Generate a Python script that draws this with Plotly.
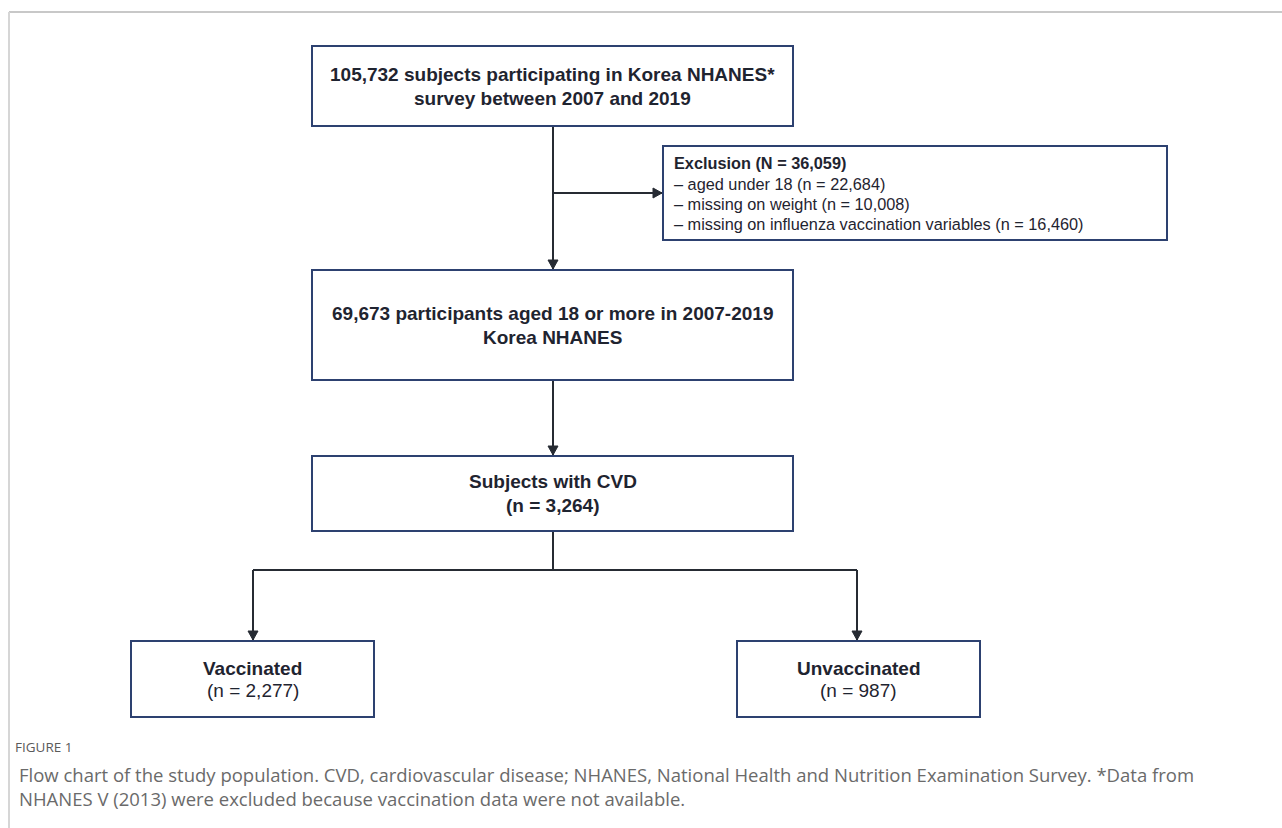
import plotly.graph_objects as go

# ---- data ----
box_titles = [
    ["105,732 subjects participating in Korea NHANES*", "survey between 2007 and 2019"],
    ["69,673 participants aged 18 or more in 2007-2019", "Korea NHANES"],
    ["Subjects with CVD", "(n = 3,264)"],
]
group_titles = ["Vaccinated", "Unvaccinated"]
group_counts = ["(n = 2,277)", "(n = 987)"]
exclusion_title = "Exclusion (N = 36,059)"
exclusion_items = [
    "– aged under 18 (n = 22,684)",
    "– missing on weight (n = 10,008)",
    "– missing on influenza vaccination variables (n = 16,460)",
]
caption_label = "FIGURE 1"
caption_lines = [
    "Flow chart of the study population. CVD, cardiovascular disease; NHANES, National Health and Nutrition Examination Survey. *Data from",
    "NHANES V (2013) were excluded because vaccination data were not available.",
]

# ---- layout geometry (pixels) ----
W, H = 1282, 828
main_boxes = [(312, 46, 793, 126), (312, 270, 793, 380), (312, 456, 793, 531)]
group_boxes = [(131, 641, 374, 717), (737, 641, 980, 717)]
excl_box = (663, 146, 1167, 240)
cx = 553
BOX_COL = "#2d4170"
LINE_COL = "#262b33"
TEXT_COL = "#1f2430"

shapes = []
annotations = []

def rect(b):
    shapes.append(dict(type="rect", xref="x", yref="y", x0=b[0], y0=b[1], x1=b[2], y1=b[3],
                       line=dict(color=BOX_COL, width=2), fillcolor="white", layer="above"))

def line(x0, y0, x1, y1):
    shapes.append(dict(type="line", xref="x", yref="y", x0=x0, y0=y0, x1=x1, y1=y1,
                       line=dict(color=LINE_COL, width=2), layer="below"))

def arrow_down(x, y):
    shapes.append(dict(type="path", xref="x", yref="y",
                       path=f"M {x-5},{y-9} L {x+5},{y-9} L {x},{y} Z",
                       fillcolor=LINE_COL, line=dict(color=LINE_COL, width=1), layer="above"))

def arrow_right(x, y):
    shapes.append(dict(type="path", xref="x", yref="y",
                       path=f"M {x-9},{y-5} L {x-9},{y+5} L {x},{y} Z",
                       fillcolor=LINE_COL, line=dict(color=LINE_COL, width=1), layer="above"))

def text(x, y, s, size=19, bold=False, color=TEXT_COL, xanchor="center", family="Liberation Sans, Arial, sans-serif"):
    annotations.append(dict(x=x, y=y, xref="x", yref="y", text=(f"<b>{s}</b>" if bold else s),
                            showarrow=False, xanchor=xanchor, yanchor="middle",
                            font=dict(family=family, size=size, color=color)))

# page frame
shapes.append(dict(type="line", xref="x", yref="y", x0=9, y0=12, x1=W, y1=12,
                   line=dict(color="#c8c8c8", width=2)))
shapes.append(dict(type="line", xref="x", yref="y", x0=9, y0=12, x1=9, y1=H,
                   line=dict(color="#d6d6d6", width=2)))

# connectors
line(cx, main_boxes[0][3], cx, main_boxes[1][1])
line(cx, 193, excl_box[0], 193)
arrow_right(excl_box[0] - 1, 193)
arrow_down(cx, main_boxes[1][1] - 1)
line(cx, main_boxes[1][3], cx, main_boxes[2][1])
arrow_down(cx, main_boxes[2][1] - 1)
line(cx, main_boxes[2][3], cx, 570)
gx = [253, 857]
line(gx[0], 570, gx[1], 570)
for i, b in enumerate(group_boxes):
    line(gx[i], 570, gx[i], b[1])
    arrow_down(gx[i], b[1] - 1)

# boxes
for b in main_boxes + group_boxes + [excl_box]:
    rect(b)

# main box text
for b, lines in zip(main_boxes, box_titles):
    mx = (b[0] + b[2]) / 2
    my = (b[1] + b[3]) / 2
    text(mx, my - 12, lines[0], bold=True)
    text(mx, my + 12, lines[1], bold=True)

for b, t, c in zip(group_boxes, group_titles, group_counts):
    mx = (b[0] + b[2]) / 2
    my = (b[1] + b[3]) / 2
    text(mx, my - 11, t, bold=True)
    text(mx, my + 11, c)

# exclusion text
ex_x = excl_box[0] + 9
text(ex_x, 163, exclusion_title, size=16.3, bold=True, xanchor="left")
for i, s in enumerate(exclusion_items):
    text(ex_x, 184 + 20 * i, s, size=16.3, xanchor="left")

# caption
cap_font = "Open Sans, Lato, sans-serif"
text(13, 747, caption_label, size=13.5, color="#5a5a5a", xanchor="left", family=cap_font)
for i, s in enumerate(caption_lines):
    text(17, 774 + 24 * i, s, size=18.5, color="#6a6a6a", xanchor="left", family=cap_font)

fig = go.Figure()
fig.add_trace(go.Scatter(x=[0, W], y=[0, H], mode="markers", marker=dict(opacity=0), hoverinfo="skip"))
fig.update_layout(
    width=W, height=H, margin=dict(l=0, r=0, t=0, b=0),
    paper_bgcolor="white", plot_bgcolor="white", showlegend=False,
    xaxis=dict(range=[0, W], visible=False, fixedrange=True),
    yaxis=dict(range=[H, 0], visible=False, fixedrange=True),
    shapes=shapes, annotations=annotations,
)
fig.write_html("out.html", config={"displayModeBar": False},
               post_script="document.body.style.margin='0';document.body.style.overflow='hidden';")
